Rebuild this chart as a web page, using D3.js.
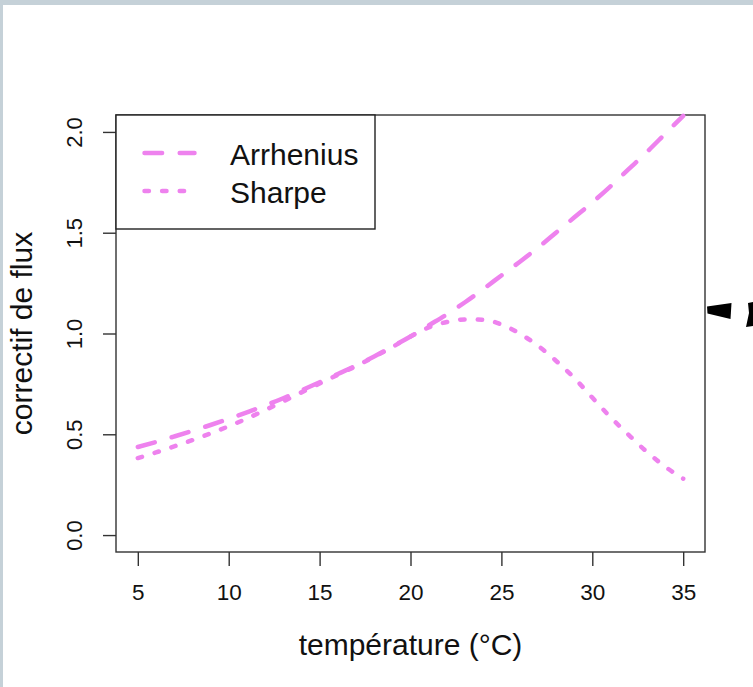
<!DOCTYPE html>
<html>
<head>
  <meta charset="utf-8">
  <style>
    body { margin: 0; background: #c5d1d8; }
    svg { display: block; }
    text { font-family: "Liberation Sans", Arial, sans-serif; fill: #111; }
  </style>
  <title>correctif de flux</title>
  <script src="https://cdn.jsdelivr.net/npm/d3@7"></script>
</head>
<body>
<script>
  // temperatures (°C) and the two correction curves
  const temps = [5, 6, 7, 8, 9, 10, 11, 12, 13, 14, 15, 16, 17, 18, 19, 20,
                 21, 22, 23, 24, 25, 26, 27, 28, 29, 30, 31, 32, 33, 34, 35];
  const arrhenius = [0.437, 0.462, 0.489, 0.517, 0.546, 0.577, 0.609, 0.643, 0.679, 0.718,
                     0.758, 0.799, 0.841, 0.886, 0.935, 0.985, 1.040, 1.095, 1.155, 1.220,
                     1.288, 1.355, 1.425, 1.500, 1.575, 1.650, 1.730, 1.815, 1.900, 1.990, 2.080];
  const sharpe = [0.382, 0.410, 0.440, 0.471, 0.504, 0.540, 0.578, 0.620, 0.663, 0.708,
                  0.752, 0.795, 0.838, 0.884, 0.933, 0.985, 1.030, 1.057, 1.070, 1.068,
                  1.045, 1.000, 0.940, 0.865, 0.780, 0.682, 0.585, 0.497, 0.413, 0.340, 0.280];
  const xTicks = [5, 10, 15, 20, 25, 30, 35];
  const yTicks = [0, 0.5, 1, 1.5, 2];
  const seriesNames = ["Arrhenius", "Sharpe"];

  const W = 753, H = 687;
  const plot = {left: 116, right: 705, top: 115, bottom: 552};
  const col = "#ee82ee";
  const dashes = ["17.6,17.6", "4.4,13.2"];

  const svg = d3.select("body").append("svg")
      .attr("width", W)
      .attr("height", H);

  // white panel inside the light frame
  svg.append("rect")
      .attr("x", 3).attr("y", 5)
      .attr("width", W - 3).attr("height", H - 5)
      .attr("fill", "#fff");

  const x = d3.scaleLinear().domain([3.8, 36.2]).range([plot.left, plot.right]);
  const y = d3.scaleLinear().domain([-0.084, 2.084]).range([plot.bottom, plot.top]);

  // x axis
  const xAxis = svg.append("g")
      .attr("transform", "translate(0," + plot.bottom + ")")
      .call(d3.axisBottom(x).tickValues(xTicks).tickSize(14).tickPadding(18).tickFormat(d3.format("d")));
  xAxis.select(".domain").remove();
  xAxis.selectAll("line").attr("stroke", "#333").attr("stroke-width", 1.4);
  xAxis.selectAll("text").attr("font-size", 22.5).attr("font-family", "Liberation Sans, Arial, sans-serif")
      .attr("fill", "#1a1a1a");

  // y axis, labels turned like in R
  const yAxis = svg.append("g")
      .attr("transform", "translate(" + plot.left + ",0)")
      .call(d3.axisLeft(y).tickValues(yTicks).tickSize(13).tickFormat(d3.format(".1f")));
  yAxis.select(".domain").remove();
  yAxis.selectAll("line").attr("stroke", "#333").attr("stroke-width", 1.4);
  yAxis.selectAll("text")
      .attr("x", null).attr("dy", null)
      .attr("font-size", 22).attr("font-family", "Liberation Sans, Arial, sans-serif")
      .attr("fill", "#1a1a1a")
      .attr("text-anchor", "middle")
      .attr("transform", "translate(-34,0) rotate(-90)");

  // box
  svg.append("rect")
      .attr("x", plot.left).attr("y", plot.top)
      .attr("width", plot.right - plot.left).attr("height", plot.bottom - plot.top)
      .attr("fill", "none").attr("stroke", "#333").attr("stroke-width", 1.4);

  // curves
  const line = d3.line()
      .x((d, i) => x(temps[i]))
      .y(d => y(d))
      .curve(d3.curveMonotoneX);

  [arrhenius, sharpe].forEach(function(s, k) {
    svg.append("path")
        .attr("d", line(s))
        .attr("fill", "none")
        .attr("stroke", col)
        .attr("stroke-width", 4.5)
        .attr("stroke-linecap", "round")
        .attr("stroke-dasharray", dashes[k]);
  });

  // legend
  const leg = svg.append("g");
  leg.append("rect")
      .attr("x", plot.left).attr("y", plot.top)
      .attr("width", 375 - plot.left).attr("height", 229 - plot.top)
      .attr("fill", "#fff").attr("stroke", "#222").attr("stroke-width", 1.4);
  seriesNames.forEach(function(name, k) {
    const ly = [153, 191][k];
    leg.append("line")
        .attr("x1", 144.5).attr("x2", 194.5)
        .attr("y1", ly).attr("y2", ly)
        .attr("stroke", col).attr("stroke-width", 4.5)
        .attr("stroke-linecap", "round")
        .attr("stroke-dasharray", dashes[k]);
    leg.append("text")
        .attr("x", 230).attr("y", ly + 12)
        .attr("font-size", 30)
        .text(name);
  });

  // axis titles
  svg.append("text")
      .attr("x", (plot.left + plot.right) / 2)
      .attr("y", 655)
      .attr("text-anchor", "middle")
      .attr("font-size", 30)
      .text("température (°C)");

  svg.append("text")
      .attr("transform", "translate(32," + ((plot.top + plot.bottom) / 2) + ") rotate(-90)")
      .attr("text-anchor", "middle")
      .attr("font-size", 30)
      .text("correctif de flux");

  // bits of a black arrow cut off at the right edge
  svg.append("path")
      .attr("d", "M707,306.5 L731.5,303 L730.5,319 L707.5,313.5 Z")
      .attr("fill", "#000");
  svg.append("path")
      .attr("d", "M748,303 L753,302 L753,326 L746,327 L749,313 Z")
      .attr("fill", "#000");
</script>
</body>
</html>
